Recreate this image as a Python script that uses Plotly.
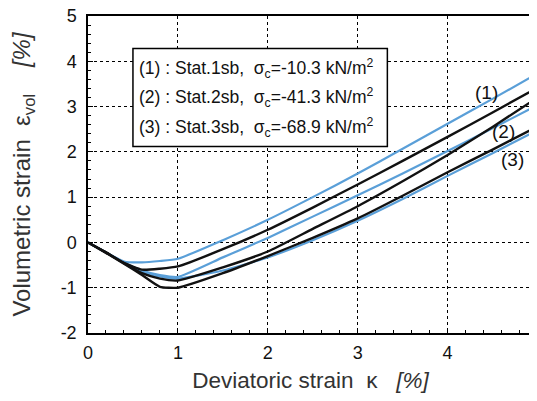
import plotly.graph_objects as go

# ── Data ───────────────────────────────────────────────────────────────────────
kappa = [0, 0.2, 0.4, 0.6, 0.8, 1.0, 1.5, 2.0, 2.5, 3.0, 3.5, 4.0, 4.5, 5.0]

blue_1 = [0, -0.22, -0.42, -0.44, -0.41, -0.36, 0.05, 0.50, 1.00, 1.52, 2.07, 2.62, 3.17, 3.73]
black_1 = [0, -0.22, -0.45, -0.60, -0.58, -0.53, -0.15, 0.28, 0.77, 1.28, 1.80, 2.33, 2.87, 3.42]
blue_2 = [0, -0.22, -0.45, -0.62, -0.72, -0.76, -0.33, 0.10, 0.57, 1.04, 1.52, 2.02, 2.52, 3.03]
black_2 = [0, -0.22, -0.46, -0.68, -0.80, -0.84, -0.55, -0.20, 0.30, 0.80, 1.35, 1.93, 2.55, 3.20]
blue_3 = [0, -0.22, -0.45, -0.65, -0.75, -0.80, -0.62, -0.33, 0.05, 0.48, 0.96, 1.47, 1.97, 2.48]
black_3 = [0, -0.23, -0.47, -0.72, -0.98, -1.00, -0.68, -0.30, 0.10, 0.53, 1.03, 1.55, 2.05, 2.56]

x_ticks = [0, 1, 2, 3, 4, 5]
y_ticks = [-2, -1, 0, 1, 2, 3, 4, 5]
y_tick_text = ["-2", "-1", "0", "1", "2", "3", "4", "5"]

legend_lines = [
    "(1) : Stat.1sb,  σ<sub>c</sub>=-10.3 kN/m<sup>2</sup>",
    "(2) : Stat.2sb,  σ<sub>c</sub>=-41.3 kN/m<sup>2</sup>",
    "(3) : Stat.3sb,  σ<sub>c</sub>=-68.9 kN/m<sup>2</sup>",
]
curve_labels = ["(1)", "(2)", "(3)"]

BLUE = "#5a9fd8"
BLACK = "#111111"
FONT = "Liberation Sans, Arial, sans-serif"

fig = go.Figure()

for ys, col, w in [
    (blue_1, BLUE, 2.2), (blue_2, BLUE, 2.2), (blue_3, BLUE, 2.2),
    (black_1, BLACK, 2.4), (black_2, BLACK, 2.4), (black_3, BLACK, 2.4),
]:
    fig.add_trace(go.Scatter(
        x=kappa, y=ys, mode="lines",
        line=dict(color=col, width=w, shape="spline", smoothing=0.5),
        showlegend=False, hoverinfo="skip",
    ))

# legend box drawn by hand, as in the figure
fig.add_shape(type="rect", x0=0.50, x1=3.33, y0=2.12, y1=4.28,
              line=dict(color="black", width=1.5), fillcolor="white", layer="above")
for txt, yy in zip(legend_lines, [3.84, 3.20, 2.54]):
    fig.add_annotation(x=0.545, y=yy, text=txt, showarrow=False, xanchor="left",
                       font=dict(family=FONT, size=17.5, color="#111"))

for txt, (xx, yy) in zip(curve_labels, [(4.43, 3.31), (4.62, 2.45), (4.72, 1.83)]):
    fig.add_annotation(x=xx, y=yy, text=txt, showarrow=False,
                       font=dict(family=FONT, size=19, color="#111"))

axis_common = dict(
    showline=True, linecolor="black", linewidth=1.5, mirror=True,
    showgrid=True, gridcolor="black", gridwidth=1, griddash="dot",
    zeroline=False, ticks="inside", ticklen=5, tickcolor="black",
    tickfont=dict(family=FONT, size=18, color="#111"),
    minor=dict(ticks="inside", dtick=0.2, ticklen=3, tickcolor="black", showgrid=False),
    automargin=False, ticklabeloverflow="allow",
)

# the window crops the plot just short of kappa = 5, as in the reference
fig.update_xaxes(
    range=[0, 4.95], tickvals=x_ticks, ticklabelstandoff=3, **axis_common,
    title=dict(text="Deviatoric strain  κ   <i>[%]</i>",
               font=dict(family=FONT, size=22.5, color="#333"), standoff=13),
)
fig.update_yaxes(
    range=[-2, 5], tickvals=y_ticks, ticktext=y_tick_text, ticklabelstandoff=6,
    **axis_common,
    title=dict(text="Volumetric strain  ε<sub>vol</sub>    <i>[%]</i>",
               font=dict(family=FONT, size=24, color="#333"), standoff=28),
)

# page body has an 8px margin; keep the page inside the 537x401 window
fig.update_layout(
    width=525, height=385,
    margin=dict(l=80, r=0, t=8, b=60),
    paper_bgcolor="white", plot_bgcolor="white",
    font=dict(family=FONT),
)

fig.write_html("out.html")
